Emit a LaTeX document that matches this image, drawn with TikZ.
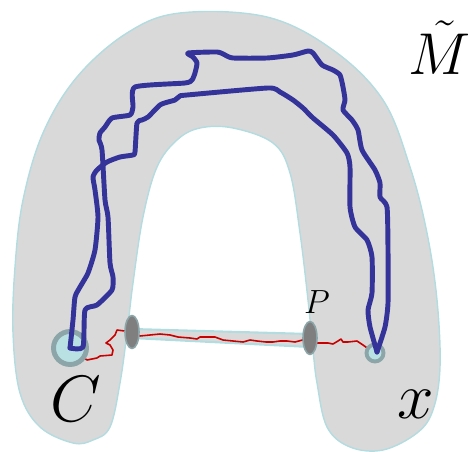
\documentclass[tikz,border=0pt]{standalone}
\usepackage{xcolor}
\usepackage{tikz}
\usetikzlibrary{shapes.geometric}
\definecolor{sheetgray}{HTML}{D9D9D9}
\definecolor{rim}{HTML}{B3DCE0}
\definecolor{loopblue}{HTML}{333399}
\definecolor{chainred}{HTML}{C80000}
\definecolor{slate}{HTML}{8CA5A8}
\definecolor{iceblue}{HTML}{B9E1E4}
\definecolor{plug}{HTML}{7F7F7F}
\tikzset{
    every picture/.style={line cap=round,line join=round},
    sheet/.style={fill=sheetgray,draw=rim,line width=0.8pt},
    bridge/.style={fill=sheetgray,draw=rim,line width=1.2pt},
    neck/.style={ellipse,draw=slate,fill=plug,line width=0.9pt,
      minimum width=2.8mm,minimum height=6.6mm,inner sep=0pt},
    basedisc/.style={circle,draw=slate,fill=iceblue,line width=2.8pt,
      minimum size=6.6mm,inner sep=0pt},
    pointdisc/.style={circle,draw=slate,fill=iceblue,line width=2.2pt,
      minimum size=3.4mm,inner sep=0pt},
    loop/.style={draw=loopblue,line width=2.8pt},
    chain/.style={draw=chainred,line width=0.9pt},
    biglabel/.style={inner sep=0pt,font=\Huge,scale=1.5}
}

\begin{document}
\begin{tikzpicture}[x=0.02cm,y=-0.02cm]
  \useasboundingbox (0,0) rectangle (469,452);
  % the horseshoe surface
  \draw[sheet] plot[smooth cycle,tension=0.6] coordinates {
    (180,13) (267,17) (333,50) (383,100) (410,167) (427,233) (437,300)
    (440,367) (433,410) (417,433) (383,450) (350,447) (327,427) (317,383)
    (313,350) (308,300) (300,233) (290,173) (273,143) (233,128) (200,128)
    (177,140) (157,167) (143,217) (133,283) (127,333) (120,383) (110,427)
    (93,440) (73,443) (40,427) (20,393) (13,333) (15,267) (23,200)
    (43,133) (77,77) (127,33)};
  \draw[bridge] (132,329) -- (310,334) -- (310,347) -- (132,338) -- cycle;

  \coordinate (cpt) at (70,348);
  \coordinate (xpt) at (375,353);
  \coordinate (lpt) at (132,332);
  \coordinate (rpt) at (310,338);

  % red chain through the two necks
  \draw[chain] (cpt) -- (87,360) -- (97,358) -- (100,356) -- (112,355) -- (113,350)
    -- (110,345) -- (106,343) -- (110,340) -- (115,335) -- (117,330) -- (lpt)
    -- (140,336) -- (150,335) -- (160,334) -- (170,335) -- (178,337) -- (190,338)
    -- (197,339) -- (200,337) -- (208,337) -- (215,337) -- (223,340) -- (233,341)
    -- (243,342) -- (250,340) -- (257,341) -- (266,342) -- (273,342) -- (280,341)
    -- (287,341) -- (295,342) -- (rpt) -- (317,343) -- (328,343) -- (333,344)
    -- (338,341) -- (341,339) -- (343,342) -- (348,342) -- (357,341) -- (363,345)
    -- (370,350) -- (xpt);

  \node[neck] (L) at (lpt) {};
  \node[neck] (R) at (rpt) {};
  \node[basedisc] (C0) at (cpt) {};
  \node[pointdisc] (X0) at (xpt) {};

  % the two halves of the blue loop
  \draw[loop] plot[smooth,tension=0.35] coordinates {
    (cpt) (73,320) (75,297) (80,287) (88,273) (95,250) (98,217) (95,190) (93,177)
    (97,170) (107,162) (120,157) (133,155) (135,152) (137,123) (142,120) (148,117)
    (160,105) (168,102) (175,100) (180,96) (187,95) (268,88) (280,92) (293,100)
    (303,108) (313,118) (333,135) (347,153) (350,167) (350,207) (355,227)
    (367,240) (372,257) (372,293) (368,310) (370,327) (377,352)};
  \draw[loop] plot[smooth,tension=0.35] coordinates {
    (cpt) (83,347) (85,310) (97,305) (112,290) (113,277) (110,263) (108,217)
    (105,200) (102,150) (99,140) (100,133) (105,127) (112,118) (130,115)
    (133,107) (135,87) (185,83) (192,80) (195,73) (197,63) (193,57) (188,53)
    (217,52) (225,55) (233,58) (267,58) (293,55) (308,51) (313,53) (322,65)
    (333,70) (340,75) (343,87) (345,100) (343,110) (352,120) (358,130)
    (362,150) (375,170) (380,183) (380,197) (387,207) (388,250) (388,303)
    (385,327) (377,352)};

  \node[biglabel] (labC) at (76,399) {$C$};
  \node[biglabel] (labx) at (416,404) {$x$};
  \node[inner sep=0pt,font=\Huge,scale=1.35] (labM) at (440,48) {$\tilde{M}$};
  \node[inner sep=0pt,font=\huge,scale=0.92] (labP) at (317,302) {$P$};
\end{tikzpicture}
\end{document}
